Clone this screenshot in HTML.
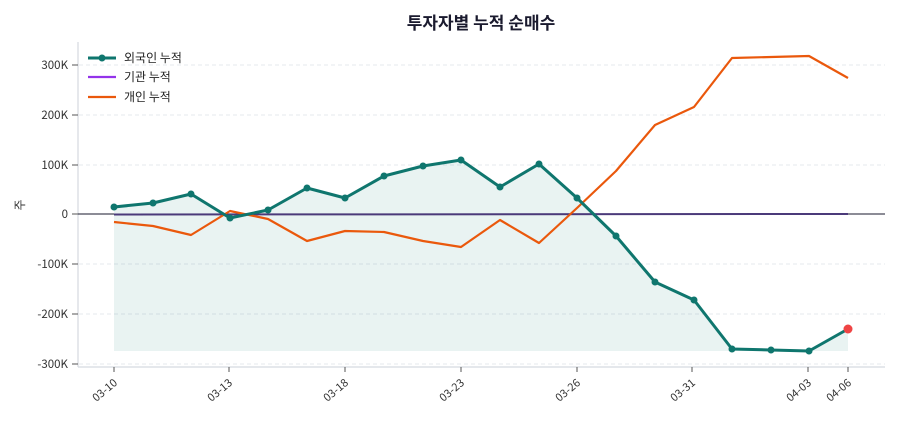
<!DOCTYPE html>
<html><head><meta charset="utf-8"><style>
body{margin:0;background:#fff;}
svg text{font-family:"Noto Sans CJK KR","Liberation Sans",sans-serif;}
</style></head><body>
<svg width="900" height="420" viewBox="0 0 900 420" xmlns="http://www.w3.org/2000/svg">
<rect width="900" height="420" fill="#fff"/>
<text x="481" y="29" text-anchor="middle" font-size="17" font-weight="bold" fill="#1a1a2e">투자자별 누적 순매수</text>
<g stroke="#dde1e8" stroke-dasharray="4,3" stroke-width="0.8">
<line x1="79" x2="885" y1="65" y2="65"/><line x1="79" x2="885" y1="115" y2="115"/><line x1="79" x2="885" y1="165" y2="165"/>
<line x1="79" x2="885" y1="264" y2="264"/><line x1="79" x2="885" y1="314" y2="314"/><line x1="79" x2="885" y1="364" y2="364"/>
</g>
<line x1="78" y1="42" x2="78" y2="367" stroke="#d5d9e0" stroke-width="1.2"/>
<line x1="78" y1="367" x2="885" y2="367" stroke="#d5d9e0" stroke-width="1.2"/>
<g font-size="11.5" fill="#333" text-anchor="end">
<text x="68" y="69">300K</text><text x="68" y="119">200K</text><text x="68" y="169">100K</text><text x="68" y="218">0</text>
<text x="68" y="268">-100K</text><text x="68" y="318">-200K</text><text x="68" y="368">-300K</text>
</g>
<g stroke="#555" stroke-width="1">
<line x1="72" x2="78" y1="65" y2="65"/><line x1="72" x2="78" y1="115" y2="115"/><line x1="72" x2="78" y1="165" y2="165"/><line x1="72" x2="78" y1="214" y2="214"/><line x1="72" x2="78" y1="264" y2="264"/><line x1="72" x2="78" y1="314" y2="314"/><line x1="72" x2="78" y1="364" y2="364"/>
<line x1="114" x2="114" y1="367" y2="372"/><line x1="229" x2="229" y1="367" y2="372"/><line x1="345" x2="345" y1="367" y2="372"/><line x1="461" x2="461" y1="367" y2="372"/><line x1="577" x2="577" y1="367" y2="372"/><line x1="692" x2="692" y1="367" y2="372"/><line x1="808" x2="808" y1="367" y2="372"/><line x1="848" x2="848" y1="367" y2="372"/>
</g>
<text x="24" y="205" font-size="12" fill="#333" transform="rotate(-90 24 205)" text-anchor="middle">주</text>
<g font-size="11" fill="#333" text-anchor="end">
<text transform="translate(118,384) rotate(-40)">03-10</text>
<text transform="translate(233,384) rotate(-40)">03-13</text>
<text transform="translate(349,384) rotate(-40)">03-18</text>
<text transform="translate(465,384) rotate(-40)">03-23</text>
<text transform="translate(581,384) rotate(-40)">03-26</text>
<text transform="translate(696,384) rotate(-40)">03-31</text>
<text transform="translate(812,384) rotate(-40)">04-03</text>
<text transform="translate(852,384) rotate(-40)">04-06</text>
</g>
<polygon fill="#0f766e" fill-opacity="0.09" points="114,351 114,207 153,203 191,194 230,218 268,210 307,188 345,198 384,176 423,166 461,160 500,187 539,164 577,198 616,236 655,282 694,300 732,349 771,350 809,351 848,329 848,351"/>
<line x1="78" x2="885" y1="214" y2="214" stroke="#1a1a2e" stroke-width="1"/>
<polyline fill="none" stroke="#4b3a7a" stroke-width="2" points="114,214.5 848,214"/>
<polyline fill="none" stroke="#ea580c" stroke-width="2.2" stroke-linejoin="round" points="114,222 153,226 191,235 230,211 268,219 307,241 345,231 384,232 423,241 461,247 500,220 539,243 577,208 616,171 655,125 694,107 732,58 771,57 809,56 848,78"/>
<polyline fill="none" stroke="#0f766e" stroke-width="3" stroke-linejoin="round" points="114,207 153,203 191,194 230,218 268,210 307,188 345,198 384,176 423,166 461,160 500,187 539,164 577,198 616,236 655,282 694,300 732,349 771,350 809,351 848,329"/>
<g fill="#0f766e">
<circle cx="114" cy="207" r="3.5"/><circle cx="153" cy="203" r="3.5"/><circle cx="191" cy="194" r="3.5"/><circle cx="230" cy="218" r="3.5"/><circle cx="268" cy="210" r="3.5"/><circle cx="307" cy="188" r="3.5"/><circle cx="345" cy="198" r="3.5"/><circle cx="384" cy="176" r="3.5"/><circle cx="423" cy="166" r="3.5"/><circle cx="461" cy="160" r="3.5"/><circle cx="500" cy="187" r="3.5"/><circle cx="539" cy="164" r="3.5"/><circle cx="577" cy="198" r="3.5"/><circle cx="616" cy="236" r="3.5"/><circle cx="655" cy="282" r="3.5"/><circle cx="694" cy="300" r="3.5"/><circle cx="732" cy="349" r="3.5"/><circle cx="771" cy="350" r="3.5"/><circle cx="809" cy="351" r="3.5"/>
</g>
<circle cx="848" cy="329" r="4.5" fill="#ef4444"/>
<g font-size="12" fill="#222">
<line x1="88" x2="116" y1="58" y2="58" stroke="#0f766e" stroke-width="3"/><circle cx="102" cy="58" r="3.5" fill="#0f766e"/>
<text x="124" y="62">외국인 누적</text>
<line x1="88" x2="116" y1="77" y2="77" stroke="#9333ea" stroke-width="2.2"/>
<text x="124" y="81">기관 누적</text>
<line x1="88" x2="116" y1="97" y2="97" stroke="#ea580c" stroke-width="2.2"/>
<text x="124" y="101">개인 누적</text>
</g>
</svg>
</body></html>
